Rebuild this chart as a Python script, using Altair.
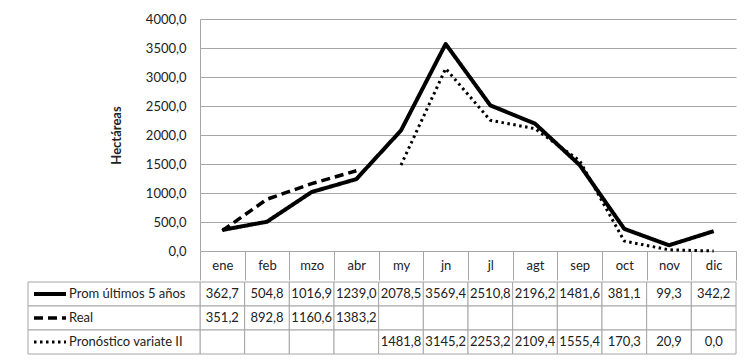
import altair as alt
import pandas as pd

months = ["ene", "feb", "mzo", "abr", "my", "jn", "jl", "agt", "sep", "oct", "nov", "dic"]
series = ["Prom últimos 5 años", "Real", "Pronóstico variate II"]
prom = [362.7, 504.8, 1016.9, 1239.0, 2078.5, 3569.4, 2510.8, 2196.2, 1481.6, 381.1, 99.3, 342.2]
real = [351.2, 892.8, 1160.6, 1383.2, None, None, None, None, None, None, None, None]
pron = [None, None, None, None, 1481.8, 3145.2, 2253.2, 2109.4, 1555.4, 170.3, 20.9, 0.0]
y_ticks = [0, 500, 1000, 1500, 2000, 2500, 3000, 3500, 4000]

rows = []
for s, vals in zip(series, [prom, real, pron]):
    for m, v in zip(months, vals):
        rows.append({
            "month": m,
            "series": s,
            "value": v,
            "label": "" if v is None else f"{v:.1f}".replace(".", ","),
        })
df = pd.DataFrame(rows)
line_df = df.dropna(subset=["value"])
label_df = pd.DataFrame({"series": series})

GRID = "#a6a6a6"
FONT = "Lato"
W = 536

dash_scale = alt.Scale(domain=series, range=[[1, 0], [9, 5], [2.5, 3.5]])
width_scale = alt.Scale(domain=series, range=[4, 3, 2.5])
x_band = alt.Scale(type="band", domain=months, paddingInner=0, paddingOuter=0)

top = alt.Chart(line_df).mark_line(color="black", strokeJoin="round").encode(
    x=alt.X("month:N", scale=x_band, bandPosition=0.5,
            axis=alt.Axis(title=None, orient="bottom", domain=True, domainColor=GRID,
                          ticks=True, tickBand="extent", tickSize=29, tickColor=GRID,
                          labelPadding=-15, labelBaseline="middle", labelAngle=0,
                          labelFontSize=13, labelColor="#222", grid=False)),
    y=alt.Y("value:Q", scale=alt.Scale(domain=[0, 4000]),
            axis=alt.Axis(title="Hectáreas", values=y_ticks, grid=True, gridColor=GRID,
                          domain=True, domainColor=GRID, ticks=False, labelPadding=14,
                          labelExpr="replace(format(datum.value, '.1f'), '.', ',')",
                          labelFontSize=13, labelColor="#222",
                          titleFontSize=13, titleFontWeight="bold", titleColor="#222",
                          titlePadding=22)),
    strokeDash=alt.StrokeDash("series:N", scale=dash_scale, legend=None),
    strokeWidth=alt.StrokeWidth("series:N", scale=width_scale, legend=None),
    detail="series:N",
).properties(width=W, height=232)

y_band = alt.Scale(type="band", domain=series, paddingInner=0, paddingOuter=0)

cells = alt.Chart(df).mark_rect(fill="white", stroke=GRID, strokeWidth=1).encode(
    x=alt.X("month:N", scale=x_band, axis=None),
    y=alt.Y("series:N", scale=y_band, axis=None),
)
values = alt.Chart(df).mark_text(font=FONT, fontSize=13, color="#222",
                                 align="center", baseline="middle").encode(
    x=alt.X("month:N", scale=x_band, axis=None, bandPosition=0.5),
    y=alt.Y("series:N", scale=y_band, axis=None, bandPosition=0.5),
    text="label:N",
)
label_cells = alt.Chart(label_df).mark_rect(fill="white", stroke=GRID, strokeWidth=1).encode(
    x=alt.value(-172), x2=alt.value(0),
    y=alt.Y("series:N", scale=y_band, axis=None),
)
swatches = alt.Chart(label_df).mark_rule(color="black").encode(
    x=alt.value(-166), x2=alt.value(-134),
    y=alt.Y("series:N", scale=y_band, axis=None, bandPosition=0.5),
    strokeDash=alt.StrokeDash("series:N", scale=dash_scale, legend=None),
    strokeWidth=alt.StrokeWidth("series:N", scale=width_scale, legend=None),
)
labels = alt.Chart(label_df).mark_text(font=FONT, fontSize=13, color="#222",
                                       align="left", baseline="middle").encode(
    x=alt.value(-131),
    y=alt.Y("series:N", scale=y_band, axis=None, bandPosition=0.5),
    text="series:N",
)
table = alt.layer(cells, values, label_cells, swatches, labels).properties(width=W, height=72)

chart = alt.vconcat(top, table, spacing=0).properties(
    padding={"left": 19, "top": 5, "right": 0, "bottom": 0}
).configure(font=FONT).configure_view(stroke=None)

chart.save("out.html", embed_options={"renderer": "svg", "actions": False})
